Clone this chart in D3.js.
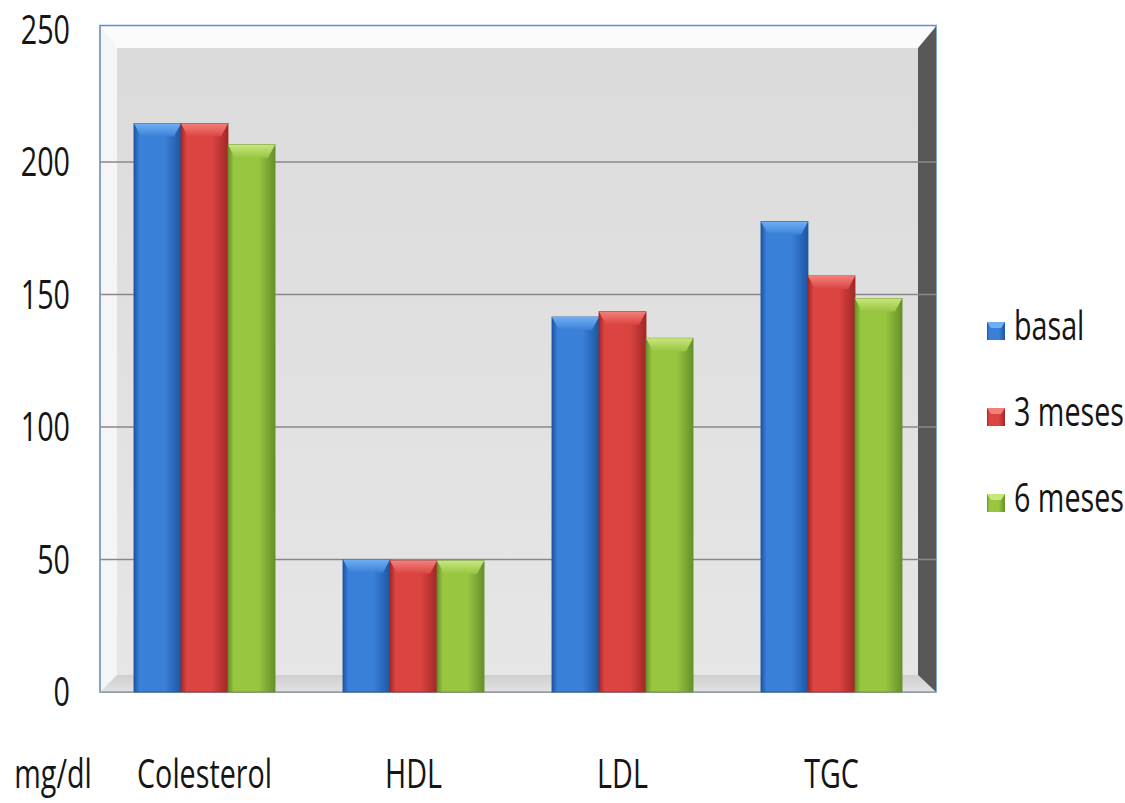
<!DOCTYPE html>
<html><head><meta charset="utf-8">
<script src="https://cdn.jsdelivr.net/npm/d3@7/dist/d3.min.js"></script>
<style>
body{margin:0;background:#fff;}
svg text{font-family:"Open Sans",sans-serif;fill:#151515;}
</style></head>
<body><svg id="c" width="1125" height="803"></svg>
<script>
const categories = ["Colesterol","HDL","LDL","TGC"];
const seriesNames = ["basal","3 meses","6 meses"];
const basal = [214.5, 50, 141.5, 177.5];
const meses3 = [214.5, 49.5, 143.5, 157];
const meses6 = [206.5, 49.5, 133.5, 148.5];
const yTicks = [0,50,100,150,200,250];
const unitLabel = "mg/dl";

(function(){
const series = [basal, meses3, meses6];
const colors = [
  {mid:"#3a80d8", dark:"#1d56a4", top:"#6fb0f4"},
  {mid:"#dc4442", dark:"#a22826", top:"#f2807a"},
  {mid:"#98c640", dark:"#66902a", top:"#c8e67e"}
];
const FS = 41, SX = 0.7;

const svg = d3.select("#c");
const pL = 100, pR = 936, pT = 29.5, pB = 692;
const y = d3.scaleLinear().domain([0,250]).range([pB, pT]);
const x0 = d3.scaleBand().domain(categories).range([pL, pR]).paddingInner(0.325).paddingOuter(0.1625);
const x1 = d3.scaleBand().domain(d3.range(3)).range([0, x0.bandwidth()]);

const defs = svg.append("defs");
colors.forEach((c,i)=>{
  const g = defs.append("linearGradient").attr("id","g"+i).attr("x1",0).attr("x2",1).attr("y1",0).attr("y2",0);
  g.append("stop").attr("offset","0").attr("stop-color",c.dark);
  g.append("stop").attr("offset","0.12").attr("stop-color",c.mid);
  g.append("stop").attr("offset","0.65").attr("stop-color",c.mid);
  g.append("stop").attr("offset","1").attr("stop-color",c.dark);
  const t = defs.append("linearGradient").attr("id","t"+i).attr("x1",0).attr("x2",0).attr("y1",0).attr("y2",1);
  t.append("stop").attr("offset","0").attr("stop-color",c.top);
  t.append("stop").attr("offset","1").attr("stop-color",c.mid);
});
const wg = defs.append("linearGradient").attr("id","wall").attr("x1",0).attr("x2",0).attr("y1",0).attr("y2",1);
wg.append("stop").attr("offset","0").attr("stop-color","#dbdbdb");
wg.append("stop").attr("offset","1").attr("stop-color","#e6e6e6");
const fg = defs.append("linearGradient").attr("id","floor").attr("x1",0).attr("x2",0).attr("y1",0).attr("y2",1);
fg.append("stop").attr("offset","0").attr("stop-color","#cfcfcf");
fg.append("stop").attr("offset","1").attr("stop-color","#e2e2e2");

svg.append("rect").attr("x",pL).attr("y",pT-4).attr("width",pR-pL).attr("height",pB-pT+4)
  .attr("fill","#fbfbfb").attr("stroke","#5b8fc9").attr("stroke-width",1.5);
const wallL = 117, wallT = 48, wallR = 918, floorY = 675;
svg.append("rect").attr("x",wallL).attr("y",wallT).attr("width",wallR-wallL).attr("height",floorY-wallT).attr("fill","url(#wall)");
svg.append("polygon").attr("points",`${pL+1},${pT-3} ${wallL},${wallT} ${wallL},${floorY} ${pL+1},${pB}`).attr("fill","#f5f5f5");
svg.append("polygon").attr("points",`${pL},${pB} ${wallL},${floorY} ${wallR},${floorY} ${pR},${pB}`).attr("fill","url(#floor)");
svg.append("polygon").attr("points",`${wallR},${wallT} ${pR},${pT-3} ${pR},${pB} ${wallR},${floorY}`).attr("fill","#585858");

svg.append("g").selectAll("line").data(yTicks.filter(t=>t>0 && t<250)).join("line")
  .attr("x1",pL).attr("x2",pR).attr("y1",d=>y(d)).attr("y2",d=>y(d))
  .attr("stroke","#888").attr("stroke-width",1.3);
svg.append("line").attr("x1",pL).attr("x2",pR).attr("y1",pB).attr("y2",pB).attr("stroke","#9a9a9a").attr("stroke-width",1.3);
svg.append("line").attr("x1",pL).attr("x2",pL).attr("y1",pT-4).attr("y2",pB).attr("stroke","#8a9fb8").attr("stroke-width",1.3);

const gCat = svg.append("g").selectAll("g").data(categories).join("g")
  .attr("transform",d=>`translate(${x0(d)},0)`);
gCat.each(function(cat, ci){
  const g = d3.select(this);
  series.forEach((s,si)=>{
    const bx = x1(si), bw = x1.bandwidth(), by = y(s[ci]), bh = pB - y(s[ci]);
    g.append("rect").attr("x",bx).attr("y",by).attr("width",bw).attr("height",bh)
      .attr("fill","url(#g"+si+")").attr("stroke",colors[si].dark).attr("stroke-width",0.8);
    const bev = 13;
    g.append("polygon").attr("points",`${bx},${by} ${bx+bw},${by} ${bx+bw-7},${by+bev} ${bx+7},${by+bev}`)
      .attr("fill","url(#t"+si+")");
  });
});

function txt(sel, x, yy, anchor){
  return sel.attr("transform",(d,i)=>`translate(${typeof x==="function"?x(d,i):x},${typeof yy==="function"?yy(d,i):yy}) scale(${SX},1)`)
    .attr("text-anchor",anchor).attr("font-size",FS);
}

txt(svg.append("g").selectAll("text").data(yTicks).join("text"), 70, d=>y(d)+14, "end").text(d=>d);
txt(svg.append("g").selectAll("text").data(categories).join("text"), d=>x0(d)+x0.bandwidth()/2, 788, "middle").text(d=>d);
txt(svg.append("g").selectAll("text").data([unitLabel]).join("text"), 53, 788, "middle").text(d=>d);

const lg = svg.append("g").selectAll("g").data(seriesNames).join("g")
  .attr("transform",(d,i)=>`translate(987,${340+i*86})`);
lg.append("rect").attr("x",0).attr("y",-18).attr("width",18).attr("height",18).attr("fill",(d,i)=>"url(#g"+i+")");
lg.append("polygon").attr("points","0,-18 18,-18 14,-12 4,-12").attr("fill",(d,i)=>colors[i].top);
txt(lg.append("text"), 27, 0, "start").text(d=>d);
})();
</script></body></html>
